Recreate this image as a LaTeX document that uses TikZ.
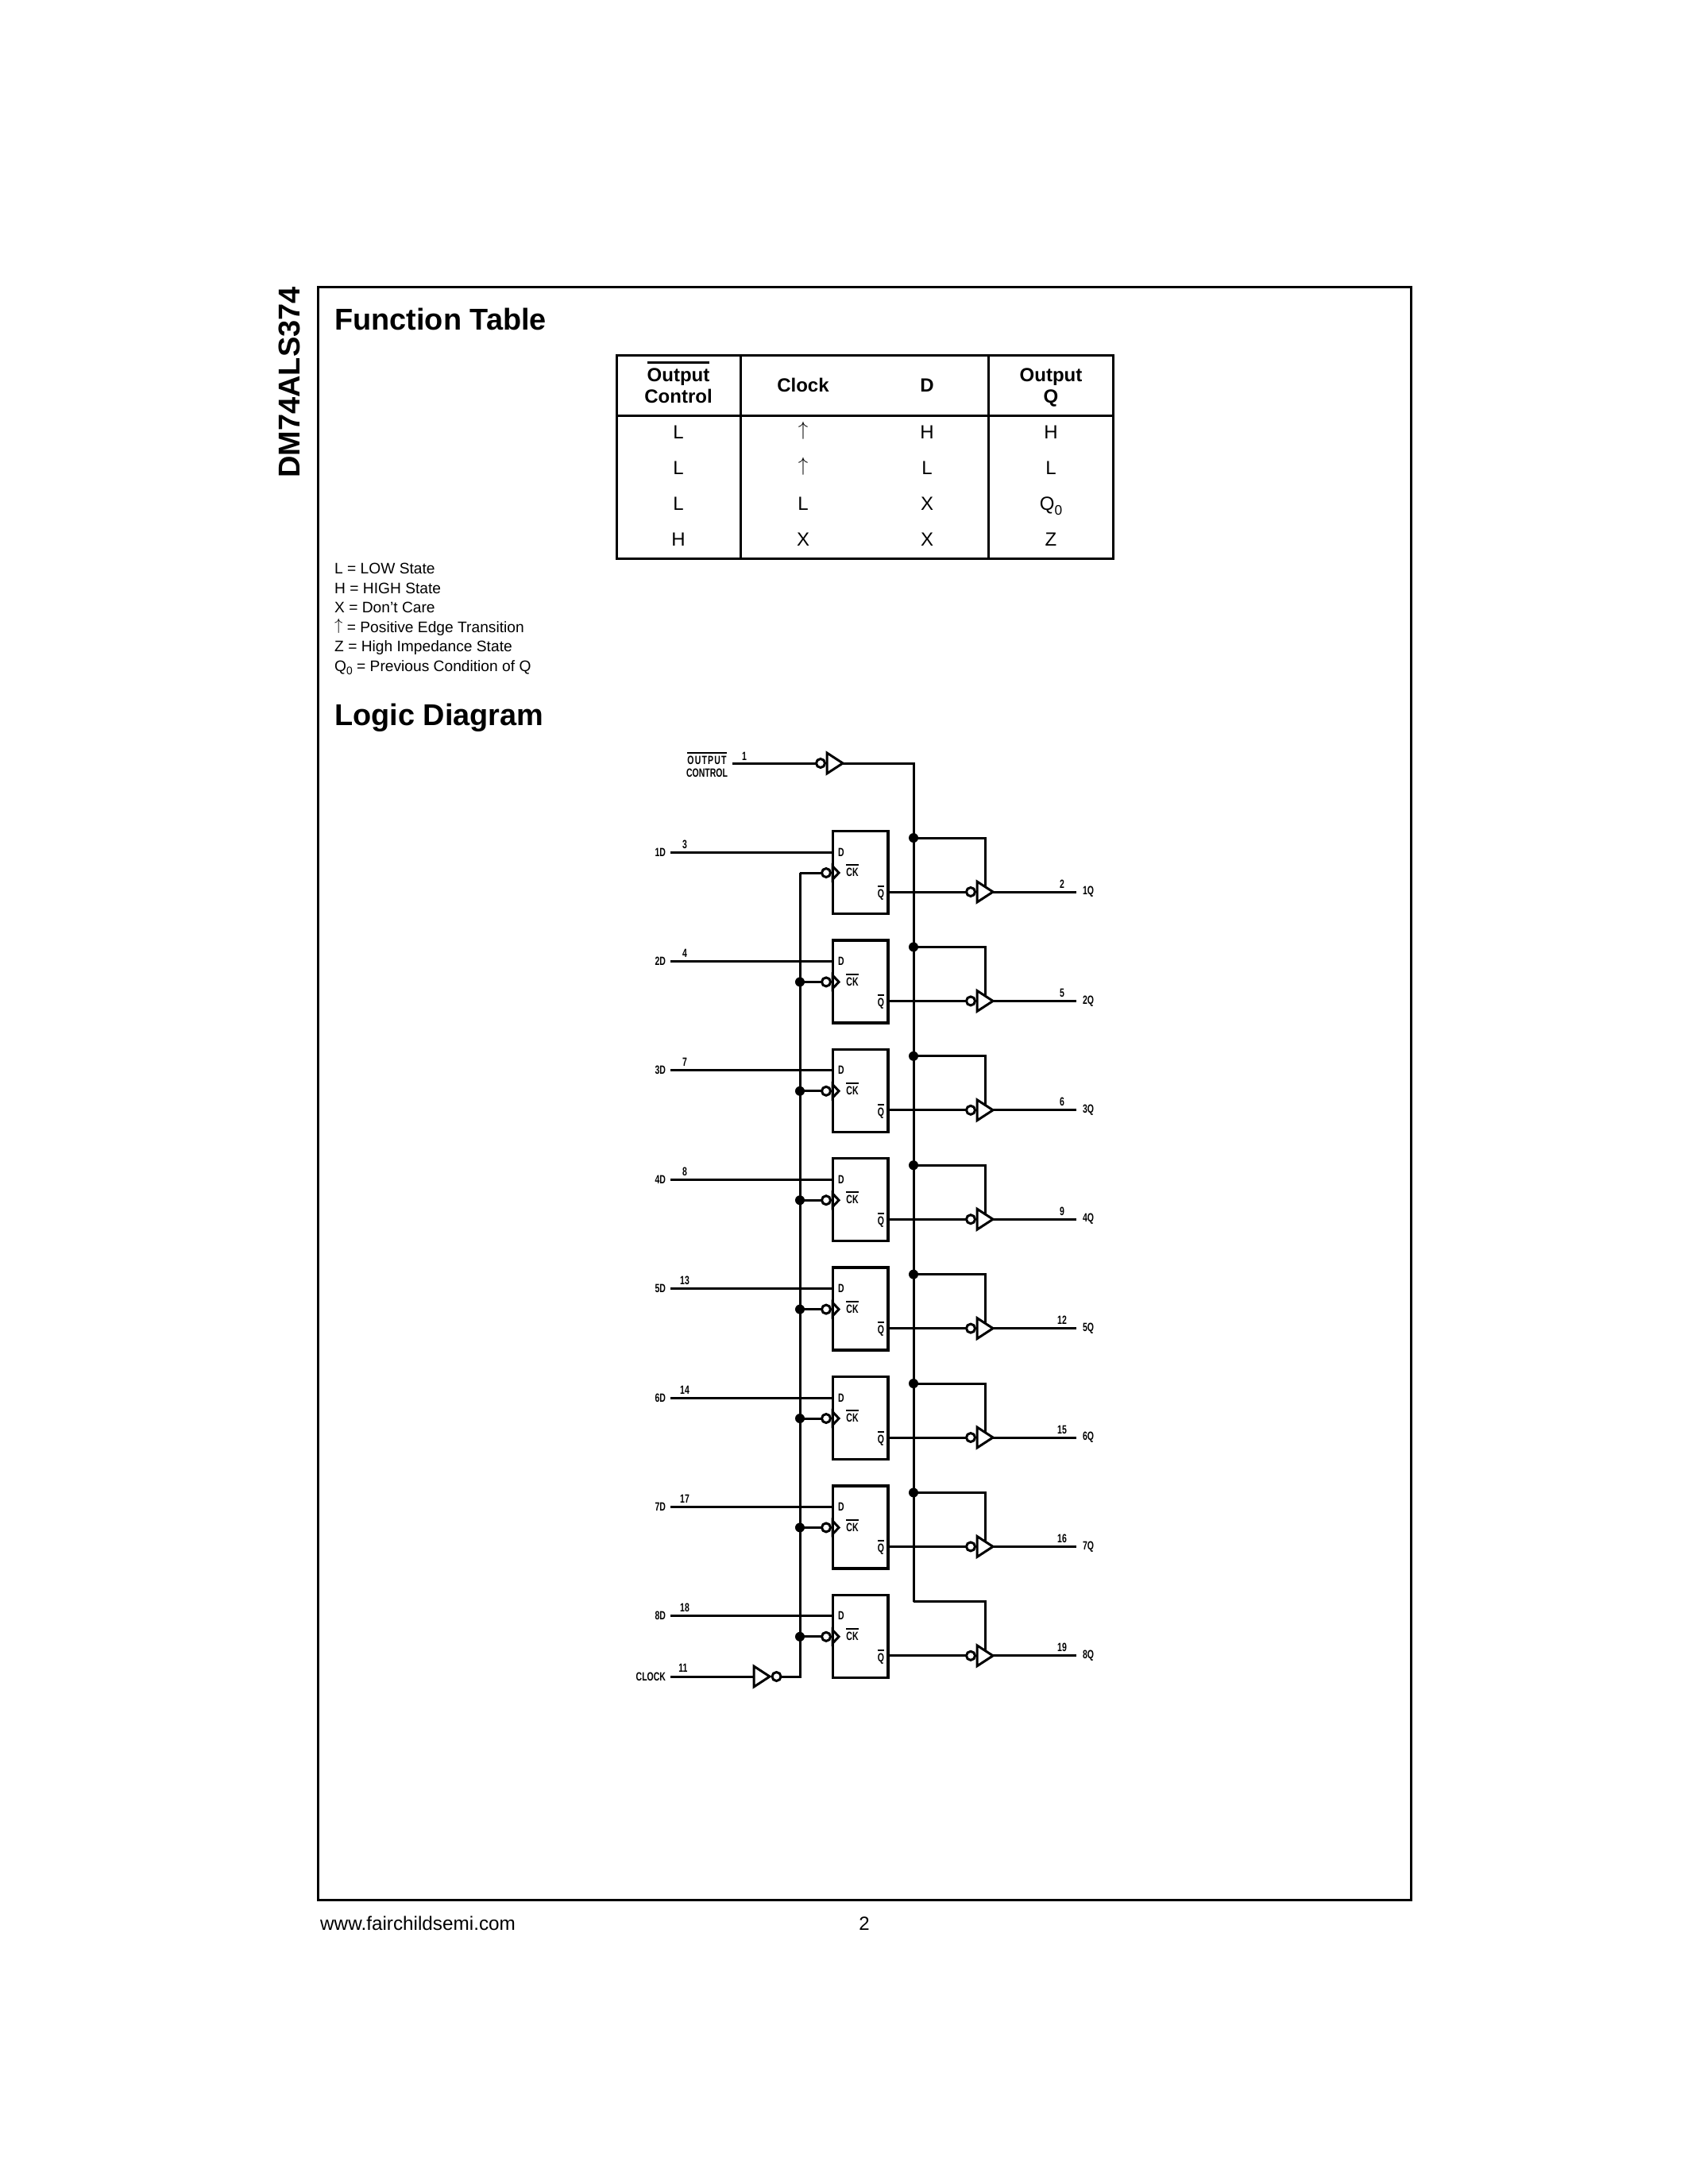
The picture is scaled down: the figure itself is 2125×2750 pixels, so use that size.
\documentclass[tikz,border=0pt]{standalone}
\usepackage{fontspec}
\setmainfont{Liberation Sans}
\newfontfamily\pinfont[FakeStretch=0.7]{Liberation Sans}
\usetikzlibrary{shapes.geometric}
\newcommand{\ovl}[2][2pt]{\leavevmode\vbox{\hrule height #1\kern 1.5\dimexpr #1\relax\hbox{#2}}}
\newcommand{\edgearrow}{\raisebox{.13em}{$\uparrow$}}
\newcommand{\prevq}{Q\raisebox{-.25em}{\scalebox{.72}{0}}}
\tikzset{
  frame/.style={line width=3pt},
  title/.style={anchor=base west,inner sep=0,font=\fontsize{37.9}{40}\selectfont\bfseries},
  legend/.style={anchor=base west,inner sep=0,font=\fontsize{19.2}{20}\selectfont},
  cell/.style={anchor=base,inner sep=0,font=\fontsize{24}{26}\selectfont},
  headcell/.style={cell,font=\fontsize{24}{26}\selectfont\bfseries},
  pin/.style={inner xsep=6pt,inner ysep=0,outer sep=0,font=\pinfont\bfseries\fontsize{15}{16}\selectfont},
  wire/.style={line width=3pt},
  ffbox/.style={draw,line width=3.5pt,minimum width=69.5pt,minimum height=104pt,inner sep=0,outer sep=0},
  bubble/.style={circle,draw,line width=3pt,minimum size=11pt,inner sep=0,outer sep=0},
  buf/.style={isosceles triangle,isosceles triangle stretches,draw,line width=3pt,
    minimum width=26pt,minimum height=20pt,inner sep=0,outer sep=0,anchor=lower side},
  cktip/.style={buf,minimum width=17pt,minimum height=8pt},
  dot/.style={circle,fill,minimum size=12pt,inner sep=0,outer sep=0}
}
\begin{document}
\begin{tikzpicture}[x=1pt,y=-1pt]
  \useasboundingbox (0,0) rectangle (2125,2750);
  \draw[frame] (400,361) rectangle (1776,2392);
  \node[anchor=base west,rotate=90,inner sep=0,font=\fontsize{38}{40}\selectfont\bfseries] (part) at (377,602) {DM74ALS374};
  \node[title] (functitle) at (421,415) {Function Table};
  \node[title] (logictitle) at (421,913) {Logic Diagram};
  \node[anchor=base west,inner sep=0,font=\fontsize{24.3}{26}\selectfont] (site) at (403,2430) {www.fairchildsemi.com};
  \node[anchor=base,inner sep=0,font=\fontsize{24}{26}\selectfont] (page) at (1088,2430) {2};

  \draw[frame] (776,447) rectangle (1401,703);
  \draw[frame] (776,523) -- (1401,523)
               (932,447) -- (932,703)
               (1244,447) -- (1244,703);
  \node[headcell] (hoc) at (854,480) {\ovl[3.5pt]{Output}};
  \node[headcell] (hctl) at (854,507) {Control};
  \node[headcell] (hclk) at (1011,493) {Clock};
  \node[headcell] (hd) at (1167,493) {D};
  \node[headcell] (hout) at (1323,480) {Output};
  \node[headcell] (hq) at (1323,507) {Q};
  \foreach \r/\y/\a/\b/\c/\e in {1/552/L/\edgearrow/H/H,2/597/L/\edgearrow/L/L,3/642/L/L/X/\prevq,4/687/H/X/X/Z}{
    \node[cell] (a\r) at (854,\y) {\a};
    \node[cell] (b\r) at (1011,\y) {\b};
    \node[cell] (c\r) at (1167,\y) {\c};
    \node[cell] (e\r) at (1323,\y) {\e};
  }
  \foreach \n/\y/\t in {1/722/L = LOW State,2/747/H = HIGH State,3/771/X = Don’t Care,
      4/796/\edgearrow{} = Positive Edge Transition,5/820/Z = High Impedance State,
      6/845/\prevq{} = Previous Condition of Q}
    \node[legend] (key\n) at (421,\y) {\t};

  \node[pin,align=center] (oe) at (890,963) {\addfontfeature{LetterSpace=8}\ovl{OUTPUT}\\CONTROL};
  \node[pin] (oenum) at (937,952) {1};
  \node[bubble] (oeb) at (1033,961) {};
  \node[buf] (oebuf) at (1041,961) {};
  \draw[wire] (oe.east |- oeb) -- (oeb.west);

  \foreach \i/\d/\q in {1/3/2,2/4/5,3/7/6,4/8/9,5/13/12,6/14/15,7/17/16,8/18/19}{
    \begin{scope}[yshift=-137.4*(\i-1)]
      \node[ffbox] (ff\i) at (1083,1098.5) {};
      \node[pin,anchor=east] (din\i) at (844,1073) {\i D};
      \node[pin] (dnum\i) at (862,1063) {\d};
      \node[pin] (dt\i) at (1059,1073) {D};
      \node[pin] (ct\i) at (1073,1096) {\ovl{CK}};
      \node[pin] (qt\i) at (1109,1124) {\ovl{Q}};
      \node[cktip] (ckt\i) at (1048,1099) {};
      \node[bubble] (ckb\i) at (1040,1099) {};
      \coordinate (ck\i) at (1007,1099);
      \coordinate (en\i) at (1150,1055);
      \node[bubble] (qb\i) at (1222,1123) {};
      \node[buf] (qbuf\i) at (1230,1123) {};
      \node[pin,anchor=west,inner xsep=8pt] (qout\i) at (1355,1123) {\i Q};
      \node[pin] (qnum\i) at (1337,1113) {\q};
    \end{scope}
    \draw[wire] (din\i.east) -- (din\i.east -| ff\i.west);
    \draw[wire] (ckb\i.west) -- (ck\i);
    \draw[wire] (qb\i.west -| ff\i.east) -- (qb\i.west);
    \draw[wire] (en\i) -| (qbuf\i.left side);
    \draw[wire] (qbuf\i.apex) -- (qout\i.west);
  }
  \foreach \i in {1,...,7}
    \node[dot] (endot\i) at (en\i) {};
  \foreach \i in {2,...,8}
    \node[dot] (ckdot\i) at (ck\i) {};
  \draw[wire] (oebuf.apex) -| (en8);

  \node[pin,anchor=east] (clk) at (844,2111) {CLOCK};
  \node[pin] (clknum) at (860,2100) {11};
  \node[buf] (clkbuf) at (949,2111) {};
  \node[bubble] (clkb) at (977.5,2111) {};
  \draw[wire] (clk.east) -- (clkbuf.lower side);
  \draw[wire] (clkb.east) -| (ck1);
\end{tikzpicture}
\end{document}
